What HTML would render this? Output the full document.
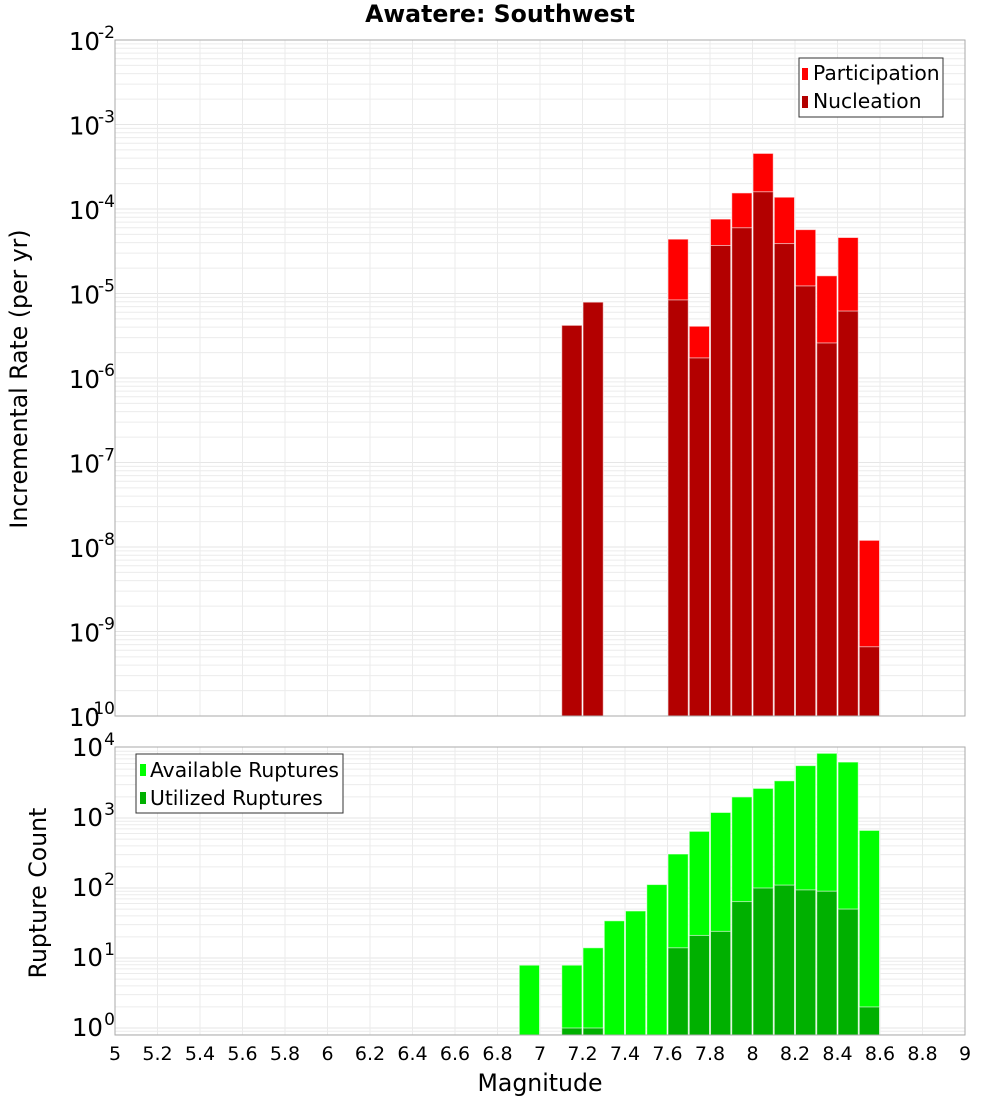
<!DOCTYPE html>
<html><head><meta charset="utf-8"><style>
html,body{margin:0;padding:0;background:#fff;}
svg{display:block;font-family:"DejaVu Sans","Liberation Sans",sans-serif;}
</style></head><body>
<svg id="chart" width="1000" height="1100" viewBox="0 0 1000 1100" xmlns="http://www.w3.org/2000/svg">
<text x="500" y="22" text-anchor="middle" font-size="23.6" font-weight="bold">Awatere: Southwest</text>
<g id="topPanel"></g>
<g id="botPanel"></g>
<text transform="translate(27,379) rotate(-90)" text-anchor="middle" font-size="23.6">Incremental Rate (per yr)</text>
<text transform="translate(46,893) rotate(-90)" text-anchor="middle" font-size="23.6">Rupture Count</text>
<text x="540" y="1091" text-anchor="middle" font-size="23.6">Magnitude</text>
<g>
<rect x="799" y="58" width="144" height="59" fill="#fff" stroke="#333" stroke-width="1"/>
<rect x="802" y="68" width="6" height="12" fill="#ff0000"/>
<text x="813" y="80" font-size="20.3">Participation</text>
<rect x="802" y="96" width="6" height="12" fill="#b30000"/>
<text x="813" y="108" font-size="20.3">Nucleation</text>
</g>
<g>
<rect x="136" y="754" width="207" height="59" fill="#fff" stroke="#333" stroke-width="1"/>
<rect x="140" y="764" width="6" height="12" fill="#00ff00"/>
<text x="150" y="777" font-size="20.3">Available Ruptures</text>
<rect x="140" y="792" width="6" height="12" fill="#00b000"/>
<text x="150" y="805" font-size="20.3">Utilized Ruptures</text>
</g>
</svg>
<script>
const rateMags = [7.15,7.25,7.65,7.75,7.85,7.95,8.05,8.15,8.25,8.35,8.45,8.55];
const participation = [4.2e-6,7.9e-6,4.4e-5,4.1e-6,7.6e-5,1.55e-4,4.55e-4,1.38e-4,5.7e-5,1.62e-5,4.6e-5,1.2e-8];
const nucleation = [4.2e-6,7.9e-6,8.4e-6,1.73e-6,3.7e-5,6.0e-5,1.6e-4,3.9e-5,1.23e-5,2.6e-6,6.2e-6,6.6e-10];
const countMags = [6.95,7.15,7.25,7.35,7.45,7.55,7.65,7.75,7.85,7.95,8.05,8.15,8.25,8.35,8.45,8.55];
const available = [7.9,7.9,14,34,47,112,306,645,1200,2000,2650,3400,5600,8400,6300,665];
const utilized = [0,1.0,1.0,0,0,0,14,21,24,64,100,110,94,90,50,2.0];
const xTicks = ["5","5.2","5.4","5.6","5.8","6","6.2","6.4","6.6","6.8","7","7.2","7.4","7.6","7.8","8","8.2","8.4","8.6","8.8","9"];
const topExps = [-10,-9,-8,-7,-6,-5,-4,-3,-2];
const botExps = [0,1,2,3,4];

const NS="http://www.w3.org/2000/svg";
const X0=115,X1=965;
function xs(m){return X0+(m-5)*(X1-X0)/4;}
function yTop(v){return 40+(-2-Math.log10(v))*84.5;}
function yBot(v){return 1028-Math.log10(v)*70;}
function mk(tag,attrs,parent){const e=document.createElementNS(NS,tag);for(const k in attrs)e.setAttribute(k,attrs[k]);parent.appendChild(e);return e;}

function panel(g,yt,yb,yfn,minExp,maxExp){
  mk('rect',{x:X0,y:yt,width:X1-X0,height:yb-yt,fill:'#fff'},g);
  for(let e=minExp;e<=maxExp;e++){for(let k=1;k<10;k++){const y=yfn(k*Math.pow(10,e));if(y>=yt&&y<=yb){const l=mk('line',{x1:X0,x2:X1,y1:y,y2:y,stroke:k==1?'#e6e6e6':'#ececec','stroke-width':1},g);
    
    }}}
  for(let i=0;i<xTicks.length;i++){const x=xs(parseFloat(xTicks[i]));const l=mk('line',{x1:x,x2:x,y1:yt,y2:yb,stroke:'#ebebeb','stroke-width':1},g);
    
    }
}
function labels(g,yfn,exps,tenX,tenDy,expDy){
  exps.forEach(e=>{const y=yfn(Math.pow(10,e));
    const t=mk('text',{x:tenX,y:y+tenDy,'text-anchor':'end','font-size':24.5},g);t.textContent='10';
    
    
    const s=mk('text',{x:115,y:y+expDy,'text-anchor':'end','font-size':17},g);s.textContent=String(e);
    
    
  });
}
function bar(g,m,v,yfn,yb,fill,name){
  if(!(v>0))return;
  const x=xs(m-0.05)+0.5,w=xs(m+0.05)-xs(m-0.05)-1;
  const y=Math.max(yfn(v),0);
  const r=mk('rect',{x:x,y:y,width:w,height:yb-y,fill:fill,stroke:'#ffffff','stroke-opacity':0.6,'stroke-width':1},g);
  
  
}
const topG=document.getElementById('topPanel'),botG=document.getElementById('botPanel');
panel(topG,40,716,yTop,-10,-3);
panel(botG,747,1035,yBot,-1,3);
rateMags.forEach((m,i)=>{bar(topG,m,participation[i],yTop,716,'#ff0000','bar-participation');bar(topG,m,nucleation[i],yTop,716,'#b30000','bar-nucleation');});
countMags.forEach((m,i)=>{bar(botG,m,available[i],yBot,1035,'#00ff00','bar-available');bar(botG,m,utilized[i],yBot,1035,'#00b000','bar-utilized');});
mk('rect',{x:X0,y:40,width:X1-X0,height:676,fill:'none',stroke:'#aaa'},topG);
mk('rect',{x:X0,y:747,width:X1-X0,height:288,fill:'none',stroke:'#aaa'},botG);
labels(topG,yTop,topExps,100,10,-2);
labels(botG,yBot,botExps,103,8,-3);
xTicks.forEach(t=>{const e=mk('text',{x:xs(parseFloat(t)),y:1060,'text-anchor':'middle','font-size':19},botG);e.textContent=t;
  
  });
</script>
</body></html>
